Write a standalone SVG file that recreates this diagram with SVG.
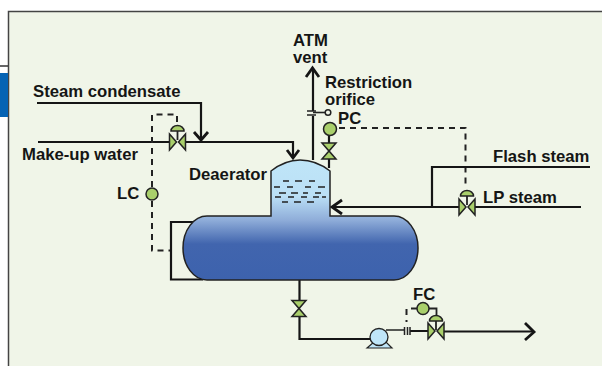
<svg xmlns="http://www.w3.org/2000/svg" width="602" height="366" viewBox="0 0 602 366">
<style>
.t{font:bold 16.700px "Liberation Sans",Arial,sans-serif;fill:#151515}
.p{fill:none;stroke:#151515;stroke-width:2.200}
.a{fill:none;stroke:#151515;stroke-width:2.800}
.d{fill:none;stroke:#222;stroke-width:2;stroke-dasharray:6 5}
.s{fill:none;stroke:#222;stroke-width:1.700}
.g{fill:#a9cf6b;stroke:#222;stroke-width:1.500}
</style>
<defs>
<linearGradient id="v" gradientUnits="userSpaceOnUse" x1="0" y1="160" x2="0" y2="280">
<stop offset="0" stop-color="#bfe5f8"/><stop offset=".3" stop-color="#bbe0f6"/><stop offset=".5" stop-color="#8fadd9"/><stop offset=".7" stop-color="#4165ae"/><stop offset="1" stop-color="#3d62ad"/>
</linearGradient>
<g id="vh"><path class="g" d="M-8-8 L-1 0 L-8 8Z M8-8 L1 0 L8 8Z"/></g>
<g id="vv"><path class="g" d="M-7-8 H7 L0 0Z M-7 8 H7 L0 0Z"/></g>
<g id="act"><path class="g" d="M-6.500 0 A6.500 5.500 0 0 1 6.500 0Z"/><path d="M0 0V9" stroke="#222" stroke-width="1.800"/></g>
</defs>
<rect x="8" y="11" width="594" height="355" fill="#f0f5e8"/>
<path d="M8.500 366V11.500H602" fill="none" stroke="#444" stroke-width="1.500"/>
<path d="M0 66H8" stroke="#333" stroke-width="1.500"/>
<rect x="0" y="73" width="8" height="44" fill="#0563b4"/>
<g id="connectors">
<path class="p" d="M37 103H201V139"/><path class="a" d="M194 132L201 140L208 132"/>
<path class="p" d="M38 142H169M186 142H293V157"/><path class="a" d="M287 150L293 158L299 150"/>
<path class="d" d="M152 187V114.500H177V123"/>
<path class="d" d="M152 201V250.500H171"/>
<path class="p" d="M195 222H171V279.500H203"/>
<path class="p" d="M313 160V116M313 111V69"/><path class="a" d="M306 77L312.500 68L319 77"/>
<path d="M307 111H316M307 115H316" stroke="#222" stroke-width="1.600"/>
<path d="M313 112.500H325" stroke="#222" stroke-width="1.600" fill="none"/>
<path class="p" d="M329 135V143M329 159V168"/>
<path class="d" d="M339 128H465.500V188"/>
<path class="p" d="M581 207H475M459 207H332"/><path class="a" d="M342 200L332 207L342 214"/>
<path class="p" d="M590 167H432V207"/>
<path class="p" d="M299.500 280V300M299.500 317V339H371"/>
<path d="M386 330H405" stroke="#222" stroke-width="1.500"/>
<path class="p" d="M410 331H428M444 331.500H532"/><path class="a" d="M525 323L534 332L525 340"/>
<path d="M404.500 327V335M407.500 327V335M410 327V335" stroke="#222" stroke-width="1.500"/>
<path class="d" d="M417 308.500H406.500V322"/>
<path d="M429 308.500H436.500V317" fill="none" stroke="#222" stroke-width="1.800"/>
</g>
<g id="deaerator">
<path d="M271 216V171Q285 160 300 160Q316 160 330 171V216H394A24 32 0 0 1 418 248A24 32 0 0 1 394 280H207A24 32 0 0 1 183 248A24 32 0 0 1 207 216Z" fill="url(#v)" stroke="#222" stroke-width="1.500"/>
<path class="s" d="M283 181H289M295 181H302M309 181H315M274 187H280M287 187H293M305 187H311M318 187H325M279 193H286M291 193H298M303 193H308M315 193H321M275 197H281M288 197H294M301 197H307M313 197H319M322 197H326M282 202H288M294 202H301M307 202H314"/>
</g>
<g id="valve-makeup"><use href="#act" x="177.500" y="131"/><use href="#vh" x="177.500" y="142"/></g>
<g id="valve-lp"><use href="#act" x="467" y="196"/><use href="#vh" x="467" y="207"/></g>
<g id="valve-vent"><use href="#vv" x="329" y="151"/></g>
<g id="valve-drain"><use href="#vv" x="299" y="308.500"/></g>
<g id="valve-fc"><use href="#act" x="436" y="321"/><use href="#vh" x="436" y="331"/></g>
<g id="lc"><circle class="g" cx="152" cy="194" r="6"/></g>
<g id="pc"><circle class="g" cx="330" cy="129" r="6.500"/></g>
<g id="fc"><circle class="g" cx="423" cy="308.500" r="6"/></g>
<g id="orifice-tap"><circle cx="328" cy="112.500" r="2.800" fill="#f0f5e8" stroke="#222" stroke-width="1.500"/></g>
<g id="pump">
<path d="M367 348L375 341H385L392 348Z" fill="#bfe5f8" stroke="#222" stroke-width="1.200"/>
<ellipse cx="379" cy="337" rx="9" ry="8.500" fill="#bfe5f8" stroke="#222" stroke-width="1.300"/>
</g>
<g id="labels">
<text class="t" x="33" y="97">Steam condensate</text>
<text class="t" x="22" y="160">Make-up water</text>
<text class="t" x="189" y="180">Deaerator</text>
<text class="t" x="117" y="199">LC</text>
<text class="t" x="293" y="46">ATM<tspan x="293" y="63">vent</tspan></text>
<text class="t" x="325" y="88">Restriction<tspan x="325" y="105">orifice</tspan></text>
<text class="t" x="338" y="124">PC</text>
<text class="t" x="493" y="162">Flash steam</text>
<text class="t" x="483" y="203">LP steam</text>
<text class="t" x="413" y="300">FC</text>
</g>
</svg>
